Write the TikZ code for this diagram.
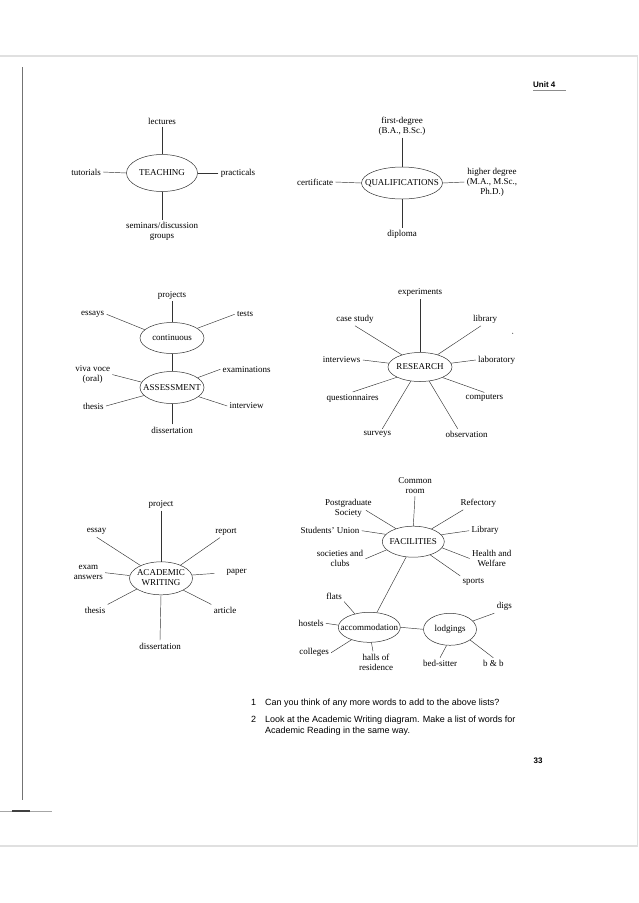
\documentclass[tikz,border=0pt]{standalone}
\usepackage{fontspec}
\setmainfont{Liberation Serif}
\newfontfamily\qfont{Liberation Sans}
\usetikzlibrary{shapes}

% centred text that does not widen the ellipse
\newcommand{\hubtxt}[1]{\makebox[0pt]{#1}}

\begin{document}
\begin{tikzpicture}[x=1pt, y=-1pt, font=\fontsize{9}{10}\selectfont,
	hub_node/.style={ellipse, draw=black!80, inner sep=0pt, line width=0.5pt},
	leaf_node/.style={inner sep=2.2pt, align=center},
	q_node/.style={inner sep=0pt, anchor=base west, font=\qfont\fontsize{9}{11.4}\selectfont},
	every edge/.style={draw, line width=0.45pt, black!80}]
	
	\useasboundingbox (0,0) rectangle (638,903);
	
	% page edges
	\draw[black!12, line width=1.5pt] (0,56) -- (638,56);
	\draw[black!12, line width=1.5pt] (0,846) -- (638,846);
	\draw[black!12, line width=1pt] (637,56) -- (637,846);
	\draw[black!55, line width=0.5pt] (22,67) -- (22,800);
	\draw[black!35, line width=0.8pt] (0,811) -- (52,811);
	\draw[black!75, line width=1.2pt] (12,811) -- (30,811);
	
	\node[q_node, font=\qfont\bfseries\fontsize{8}{9.6}\selectfont] (unit) at (533,87) {Unit 4};
	\draw[black!45, line width=1pt] ([yshift=-3pt]unit.base west) -- ++(33,0);
	
	% teaching
	\node[hub_node, minimum width=71pt, minimum height=37pt] (teach) at (162,173) {\hubtxt{TEACHING}};
	\node[leaf_node] (lect) at (162,121) {lectures};
	\node[leaf_node] (tut) at (86,172) {tutorials};
	\node[leaf_node] (prac) at (238,173) {practicals};
	\node[leaf_node] (sem) at (162,231) {seminars/discussion\\groups};
	
	\path
	(lect.south) edge (teach.north)
	(tut.east) edge (teach.west)
	(prac.west) edge (teach.east)
	(sem.north) edge (teach.south);
	
	% qualifications
	\node[hub_node, minimum width=81pt, minimum height=32pt] (qual) at (402,183) {\hubtxt{QUALIFICATIONS}};
	\node[leaf_node] (first) at (402,126) {first-degree\\(B.A., B.Sc.)};
	\node[leaf_node] (cert) at (315,182) {certificate};
	\node[leaf_node] (higher) at (492,182) {higher degree\\(M.A., M.Sc.,\\Ph.D.)};
	\node[leaf_node] (dipl) at (402,234) {diploma};
	
	\path
	(first.south) edge (qual.north)
	(cert.east) edge (qual.west)
	(higher.west) edge (qual.east)
	(dipl.north) edge (qual.south);
	
	% assessment
	\node[hub_node, minimum width=64pt, minimum height=31pt] (cont) at (172,338) {\hubtxt{continuous}};
	\node[hub_node, minimum width=64pt, minimum height=32pt] (assess) at (172,387.5) {\hubtxt{ASSESSMENT}};
	\node[leaf_node] (projects) at (172,295) {projects};
	\node[leaf_node] (essays) at (92.7,314.3) {essays};
	\node[leaf_node] (tests) at (245,314.3) {tests};
	\node[leaf_node] (viva) at (92.7,374.6) {viva voce\\(oral)};
	\node[leaf_node] (exams) at (246.7,369.3) {examinations};
	\node[leaf_node] (thesisA) at (93.3,406) {thesis};
	\node[leaf_node] (interview) at (246.7,406) {interview};
	\node[leaf_node] (dissA) at (172,430) {dissertation};
	
	\path
	(cont.south) edge (assess.north)
	(projects.south) edge (cont.north)
	(essays.east) edge (cont.163)
	(tests.west) edge (cont.21)
	(viva.east) edge (assess.170)
	(exams.west) edge (assess.21)
	(thesisA.east) edge (assess.196)
	(interview.west) edge (assess.341)
	(dissA.north) edge (assess.south);
	
	% research
	\node[hub_node, minimum width=64pt, minimum height=29pt] (res) at (420,367) {\hubtxt{RESEARCH}};
	\node[leaf_node] (exper) at (420,292.7) {experiments};
	\node[leaf_node] (case) at (355,319.3) {case study};
	\node[leaf_node] (lib) at (485,319.3) {library};
	\node[leaf_node] (intv) at (341.7,360) {interviews};
	\node[leaf_node] (lab) at (496.7,360) {laboratory};
	\node[leaf_node] (quest) at (352.7,398.3) {questionnaires};
	\node[leaf_node] (comp) at (484.3,398.3) {computers};
	\node[leaf_node] (surv) at (377.3,434.3) {surveys};
	\node[leaf_node] (obs) at (466.7,434.3) {observation};
	\fill[black!70] (512.7,333.3) circle (0.6);
	
	\path
	(exper.south) edge (res.north)
	(case.south) edge (res.146)
	([xshift=-4pt]lib.south) edge (res.35)
	(intv.east) edge (res.173)
	(lab.west) edge (res.7)
	(quest.north) edge (res.204)
	(comp.north) edge (res.335)
	([xshift=5pt]surv.north) edge (res.237)
	([xshift=-9pt]obs.north) edge (res.303);
	
	% academic writing
	\node[hub_node, minimum width=63pt, minimum height=33pt] (aw) at (161,578.3) {\hubtxt{\begin{tabular}{@{}c@{}}ACADEMIC\\WRITING\end{tabular}}};
	\node[leaf_node] (proj) at (161,504.3) {project};
	\node[leaf_node] (essay) at (96.7,531.7) {essay};
	\node[leaf_node] (report) at (226,531.7) {report};
	\node[leaf_node] (exam) at (88.3,572.7) {exam\\answers};
	\node[leaf_node] (paper) at (236.7,572.7) {paper};
	\node[leaf_node] (thesisW) at (95,610) {thesis};
	\node[leaf_node] (article) at (225,610) {article};
	\node[leaf_node] (dissW) at (160,646) {dissertation};
	
	\path
	(proj.south) edge (aw.north)
	(essay.south) edge (aw.148)
	([xshift=-6pt]report.south) edge (aw.34)
	(exam.east) edge (aw.175)
	(paper.west) edge[shorten <=10pt] (aw.6)
	(thesisW.north east) edge (aw.204)
	(article.north west) edge (aw.332)
	(dissW.north) edge (aw.south);
	
	% facilities
	\node[hub_node, minimum width=62pt, minimum height=31pt] (fac) at (413.3,541.7) {\hubtxt{FACILITIES}};
	\node[hub_node, minimum width=62pt, minimum height=30pt] (acc) at (369.3,627.3) {\hubtxt{accommodation}};
	\node[hub_node, minimum width=53pt, minimum height=32pt] (lod) at (450,629.3) {\hubtxt{lodgings}};
	\node[leaf_node] (common) at (415,485.8) {Common\\room};
	\node[leaf_node] (pgs) at (348.3,508.3) {Postgraduate\\Society};
	\node[leaf_node] (refec) at (478.3,503.3) {Refectory};
	\node[leaf_node] (su) at (330,530.7) {Students' Union};
	\node[leaf_node] (libF) at (485,530.7) {Library};
	\node[leaf_node] (soc) at (340,558.8) {societies and\\clubs};
	\node[leaf_node] (health) at (491.7,558.5) {Health and\\Welfare};
	\node[leaf_node] (sports) at (473.3,581.7) {sports};
	\node[leaf_node] (flats) at (334,596) {flats};
	\node[leaf_node] (hostels) at (311,623.3) {hostels};
	\node[leaf_node] (colleges) at (314,652.7) {colleges};
	\node[leaf_node] (halls) at (376,662) {halls of\\residence};
	\node[leaf_node] (digs) at (504.3,606.7) {digs};
	\node[leaf_node] (bed) at (440,663.3) {bed-sitter};
	\node[leaf_node] (bnb) at (493.3,663.3) {b \& b};
	
	\path
	(common.south) edge (fac.north)
	([xshift=-8pt,yshift=-2pt]pgs.east) edge (fac.143)
	([xshift=5pt]refec.south west) edge (fac.35)
	(su.east) edge (fac.165)
	(libF.west) edge (fac.14)
	(soc.east) edge (fac.197)
	(health.west) edge (fac.348)
	(sports.north west) edge (fac.322)
	(fac.245) edge (acc.63)
	(acc.east) edge (lod.west)
	(flats.south east) edge (acc.137)
	(hostels.east) edge (acc.176)
	(colleges.east) edge (acc.215)
	([xshift=-3pt]halls.north) edge (acc.278)
	(digs.south west) edge (lod.20)
	(bed.north) edge (lod.258)
	(bnb.north) edge (lod.332);
	
	% questions
	\node[q_node] (n1) at (251,705.7) {1};
	\node[q_node] (q1) at (265,705.7) {Can you think of any more words to add to the above lists?};
	\node[q_node] (n2) at (251,722.3) {2};
	\node[q_node, anchor=north west, align=left] (q2) at (265,715.6) {Look at the Academic Writing diagram. Make a list of words for\\Academic Reading in the same way.};
	\node[q_node, anchor=base, font=\qfont\bfseries\fontsize{8}{9.6}\selectfont] (page) at (538,763.7) {33};
	
\end{tikzpicture}
\end{document}
